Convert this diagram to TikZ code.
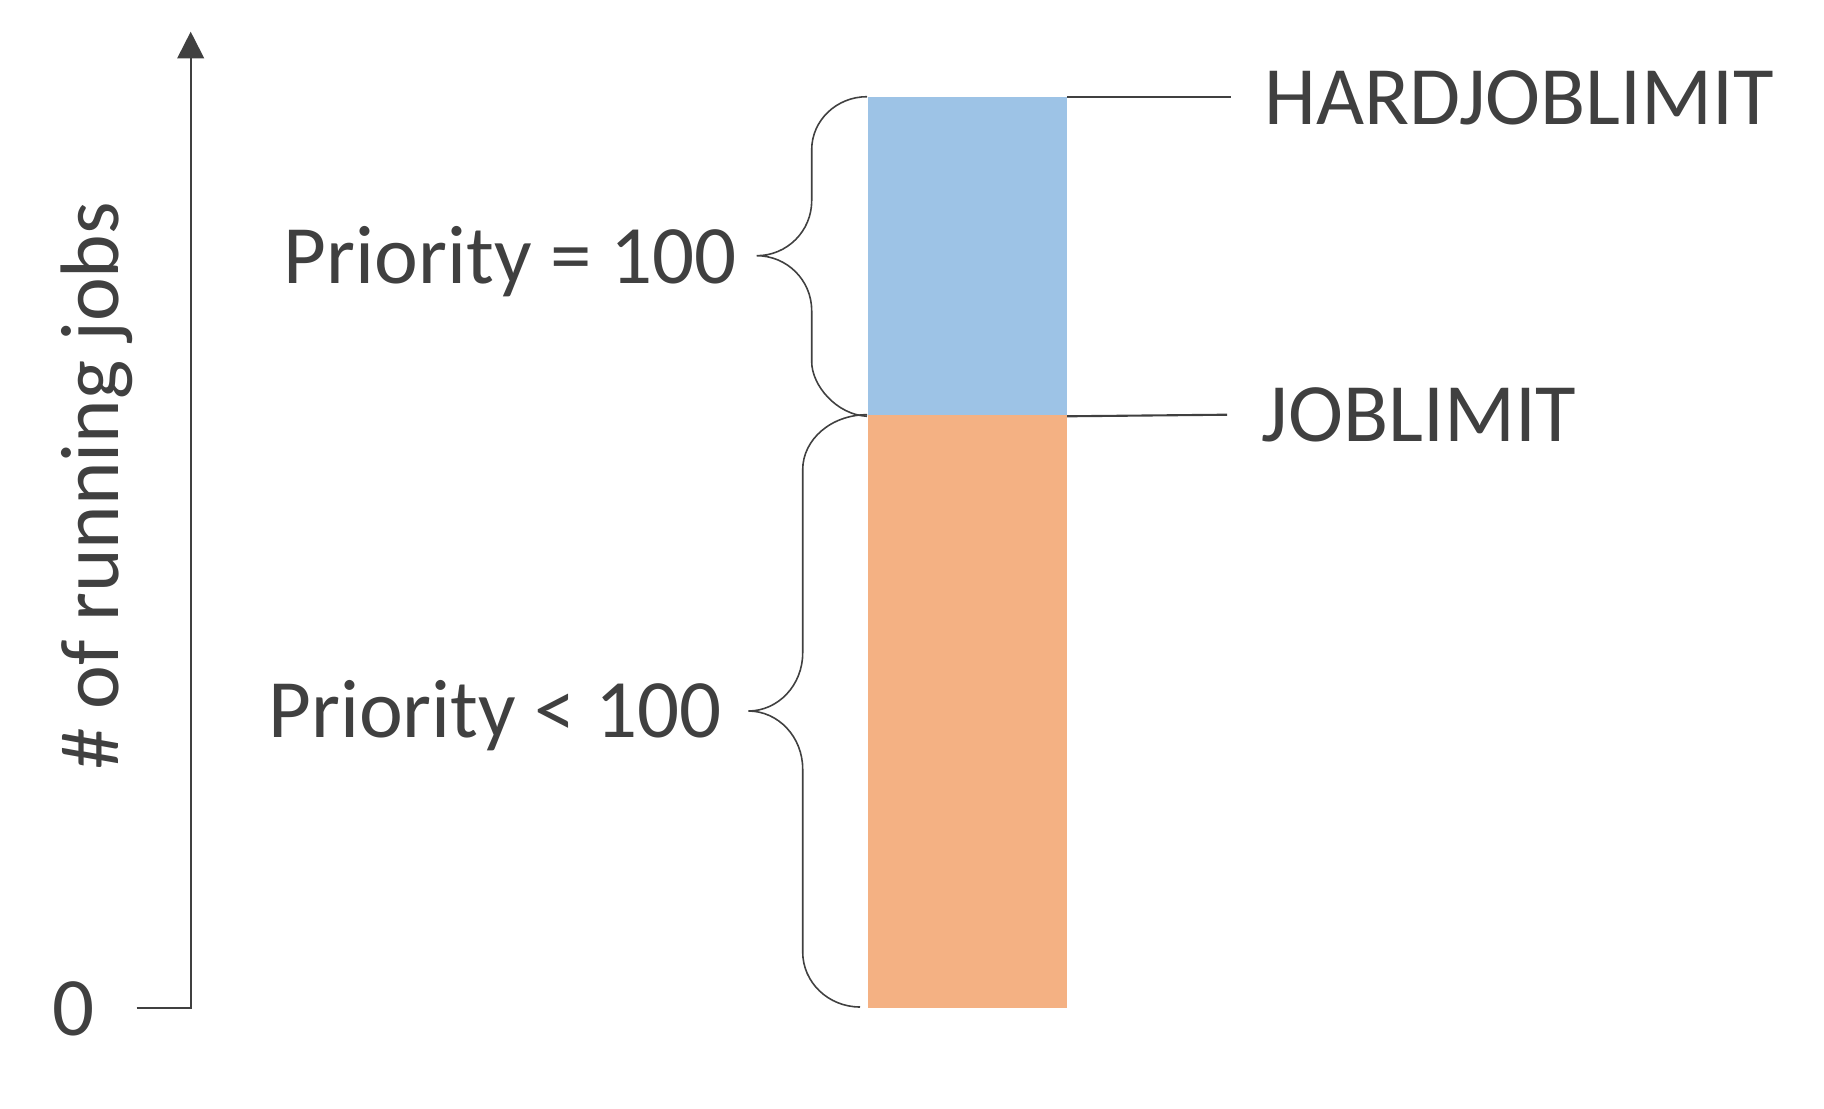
\documentclass[tikz,border=0pt]{standalone}
\usepackage{fontspec}
\setmainfont{Carlito}
\usetikzlibrary{arrows.meta}
\definecolor{txt}{HTML}{404040}
\definecolor{blueC}{RGB}{157,195,230}
\definecolor{orangeC}{RGB}{244,177,131}
\begin{document}
\begin{tikzpicture}[x=0.01cm,y=-0.01cm,
  lbl/.style={inner sep=0pt, text=txt, font=\fontsize{23.6}{28}\selectfont},
  bar/.style={inner sep=0pt, draw=none, minimum width=1.987cm, anchor=north west},
  axisline/.style={draw=txt, line width=0.57pt},
  limline/.style={draw=txt, line width=0.6pt},
  bracel/.style={draw=txt, line width=0.45pt}]
\useasboundingbox (0,0) rectangle (1824,1109);
% axis
\coordinate (origin) at (190.7,1007.7);
\coordinate (axtop) at (190.7,31.7);
\coordinate (tick) at (136.7,1007.7);
\draw[axisline, -{Triangle[length=0.266cm,width=0.266cm]}] (tick) -- (origin) -- (axtop);
\node[lbl, anchor=center] (zero) at (73.3,1009) {0};
\node[lbl, rotate=90, anchor=base] (ylab) at (118.3,486) {\# of running jobs};
% bars
\node[bar, fill=blueC, minimum height=3.18cm] (blue) at (867,96.7) {};
\node[bar, fill=orangeC, minimum height=5.923cm] (orange) at (867,414.7) {};
% limits
\coordinate (hardend) at (1230.8,96.7);
\coordinate (jobend) at (1227,414.7);
\draw[limline] (blue.north east) -- (hardend);
\draw[limline] (blue.south east) -- (jobend);
\node[lbl, anchor=base west] (hard) at (1263.6,124.5) {HARDJOBLIMIT};
\node[lbl, anchor=base west] (job) at (1261,441) {JOBLIMIT};
% braces
\draw[bracel] (blue.north west) .. controls (836.5,96.7) and (811.7,120.4) .. (811.7,149.7)
  -- (811.7,200.7) .. controls (811.7,231.1) and (787.1,255.7) .. (756.7,255.7)
  .. controls (787.1,255.7) and (811.7,280.3) .. (811.7,310.7)
  -- (811.7,361.7) .. controls (811.7,385.4) and (836.5,414.7) .. (blue.south west);
\coordinate (b2end) at (860,1007);
\draw[bracel] (orange.north west) .. controls (831.4,414.7) and (802.7,439.3) .. (802.7,469.7)
  -- (802.7,653) .. controls (802.7,685) and (778.3,711) .. (748.3,711)
  .. controls (778.3,711) and (802.7,737) .. (802.7,769)
  -- (802.7,952) .. controls (802.7,982.4) and (828.4,1007) .. (b2end);
\node[lbl, anchor=base west] (p1) at (283,283.5) {Priority = 100};
\node[lbl, anchor=base west] (p2) at (267.5,737.5) {Priority < 100};
\end{tikzpicture}
\end{document}
